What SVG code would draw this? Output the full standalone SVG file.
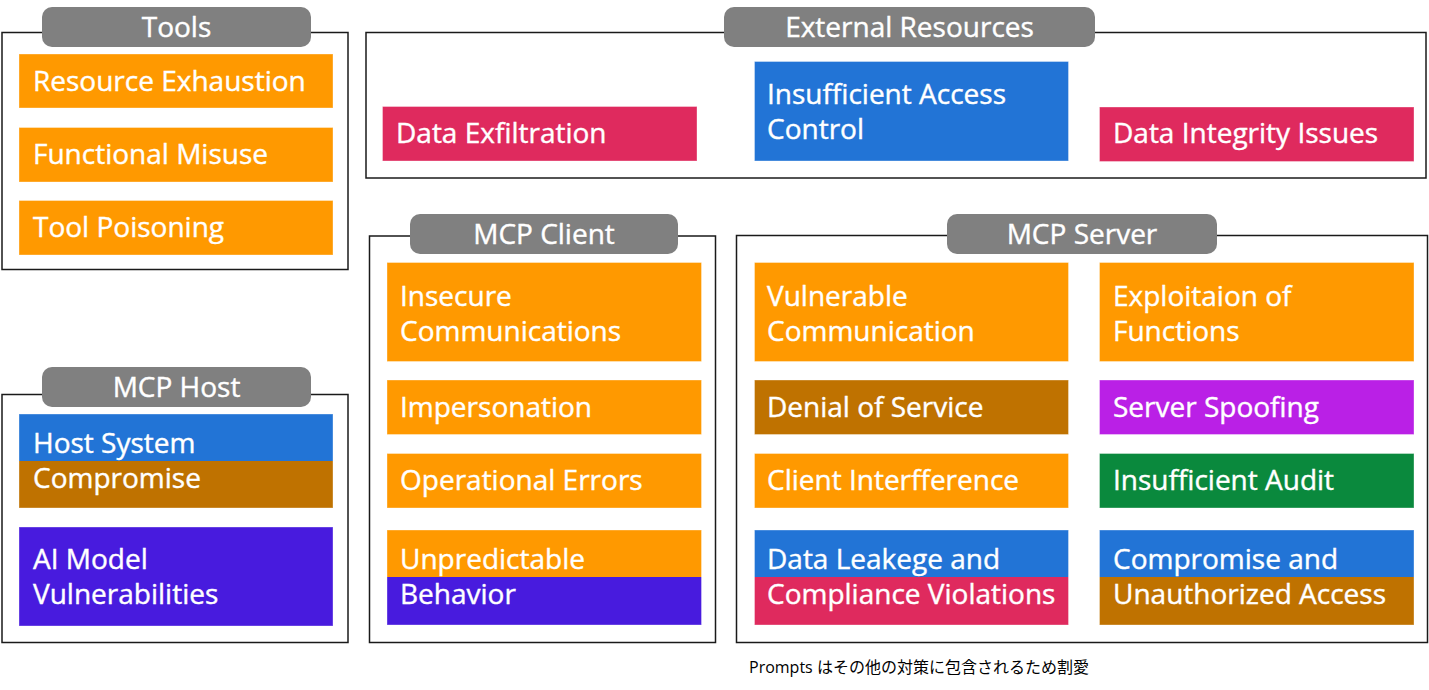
<svg xmlns="http://www.w3.org/2000/svg" width="1429" height="690" viewBox="0 0 1429 690">
  <style>
    .frame { fill: #ffffff; stroke: #1a1a1a; stroke-width: 1.5; }
    .pill { fill: #808080; }
    .title { font-family: "Open Sans", "Liberation Sans", sans-serif; font-size: 28px; fill: #ffffff; stroke: #ffffff; stroke-width: 0.4; text-anchor: middle; }
    .lbl { font-family: "Open Sans", "Liberation Sans", sans-serif; font-size: 28px; fill: #ffffff; stroke: #ffffff; stroke-width: 0.4; }
    .box { stroke: rgba(255,255,255,0.35); stroke-width: 1; }
    .orange { fill: #FF9900; }
    .crimson { fill: #DF2A5E; }
    .blue { fill: #2274D6; }
    .brown { fill: #BF7200; }
    .indigo { fill: #481BDE; }
    .magenta { fill: #BA20E6; }
    .green { fill: #0A893D; }
    .note { font-family: "Open Sans", "Noto Sans CJK JP", sans-serif; font-size: 16px; fill: #000000; }
  </style>

  <!-- Tools -->
  <g id="tools">
    <rect class="frame" x="2" y="32.5" width="346" height="237"/>
    <rect class="pill" x="42" y="7" width="269" height="40" rx="10"/>
    <text class="title" x="176.5" y="37">Tools</text>
    <g id="resource-exhaustion">
      <rect class="box orange" x="19" y="54" width="314" height="54"/>
      <text class="lbl" x="33" y="91">Resource Exhaustion</text>
    </g>
    <g id="functional-misuse">
      <rect class="box orange" x="19" y="127.5" width="314" height="54.5"/>
      <text class="lbl" x="33" y="164">Functional Misuse</text>
    </g>
    <g id="tool-poisoning">
      <rect class="box orange" x="19" y="200.5" width="314" height="54.5"/>
      <text class="lbl" x="33" y="237">Tool Poisoning</text>
    </g>
  </g>

  <!-- External Resources -->
  <g id="external-resources">
    <rect class="frame" x="366" y="32.5" width="1060" height="145.5"/>
    <rect class="pill" x="724" y="7" width="371" height="40" rx="10"/>
    <text class="title" x="909.5" y="37">External Resources</text>
    <g id="data-exfiltration">
      <rect class="box crimson" x="382.5" y="106.5" width="314.5" height="54.5"/>
      <text class="lbl" x="396" y="143">Data Exfiltration</text>
    </g>
    <g id="insufficient-access-control">
      <rect class="box blue" x="754.5" y="61.5" width="314" height="99.5"/>
      <text class="lbl" x="767" y="103.5">Insufficient Access<tspan x="767" dy="35">Control</tspan></text>
    </g>
    <g id="data-integrity-issues">
      <rect class="box crimson" x="1099.5" y="107" width="314.5" height="54.5"/>
      <text class="lbl" x="1113" y="143">Data Integrity Issues</text>
    </g>
  </g>

  <!-- MCP Host -->
  <g id="mcp-host">
    <rect class="frame" x="2" y="394.5" width="346" height="248"/>
    <rect class="pill" x="42" y="367" width="269" height="40" rx="10"/>
    <text class="title" x="176.5" y="397">MCP Host</text>
    <g id="host-system-compromise">
      <rect class="blue" x="19" y="414" width="314" height="47"/>
      <rect class="brown" x="19" y="461" width="314" height="47"/>
      <rect class="box" fill="none" x="19" y="414" width="314" height="94"/>
      <text class="lbl" x="33" y="453">Host System<tspan x="33" dy="35">Compromise</tspan></text>
    </g>
    <g id="ai-model-vulnerabilities">
      <rect class="box indigo" x="19" y="527" width="314" height="99"/>
      <text class="lbl" x="33" y="569">AI Model<tspan x="33" dy="35">Vulnerabilities</tspan></text>
    </g>
  </g>

  <!-- MCP Client -->
  <g id="mcp-client">
    <rect class="frame" x="369.5" y="236" width="346" height="406.5"/>
    <rect class="pill" x="410" y="214" width="268" height="40" rx="10"/>
    <text class="title" x="544" y="244">MCP Client</text>
    <g id="insecure-communications">
      <rect class="box orange" x="387" y="262.5" width="314.5" height="99"/>
      <text class="lbl" x="400" y="305.5">Insecure<tspan x="400" dy="35">Communications</tspan></text>
    </g>
    <g id="impersonation">
      <rect class="box orange" x="387" y="380" width="314.5" height="54.5"/>
      <text class="lbl" x="400" y="416.5">Impersonation</text>
    </g>
    <g id="operational-errors">
      <rect class="box orange" x="387" y="453.5" width="314.5" height="54.5"/>
      <text class="lbl" x="400" y="490">Operational Errors</text>
    </g>
    <g id="unpredictable-behavior">
      <rect class="orange" x="387" y="530" width="314.5" height="47"/>
      <rect class="indigo" x="387" y="577" width="314.5" height="48"/>
      <rect class="box" fill="none" x="387" y="530" width="314.5" height="95"/>
      <text class="lbl" x="400" y="569">Unpredictable<tspan x="400" dy="35">Behavior</tspan></text>
    </g>
  </g>

  <!-- MCP Server -->
  <g id="mcp-server">
    <rect class="frame" x="736.5" y="235.5" width="691" height="407"/>
    <rect class="pill" x="947" y="214" width="270" height="40" rx="10"/>
    <text class="title" x="1082" y="244">MCP Server</text>
    <g id="vulnerable-communication">
      <rect class="box orange" x="754.5" y="262.5" width="314" height="99"/>
      <text class="lbl" x="767" y="305.5">Vulnerable<tspan x="767" dy="35">Communication</tspan></text>
    </g>
    <g id="exploitation-of-functions">
      <rect class="box orange" x="1099.5" y="262.5" width="314.5" height="99"/>
      <text class="lbl" x="1113" y="305.5">Exploitaion of<tspan x="1113" dy="35">Functions</tspan></text>
    </g>
    <g id="denial-of-service">
      <rect class="box brown" x="754.5" y="380" width="314" height="54.5"/>
      <text class="lbl" x="767" y="416.5">Denial of Service</text>
    </g>
    <g id="server-spoofing">
      <rect class="box magenta" x="1099.5" y="380" width="314.5" height="54.5"/>
      <text class="lbl" x="1113" y="416.5">Server Spoofing</text>
    </g>
    <g id="client-interference">
      <rect class="box orange" x="754.5" y="453.5" width="314" height="54.5"/>
      <text class="lbl" x="767" y="490">Client Interfference</text>
    </g>
    <g id="insufficient-audit">
      <rect class="box green" x="1099.5" y="453.5" width="314.5" height="54.5"/>
      <text class="lbl" x="1113" y="490">Insufficient Audit</text>
    </g>
    <g id="data-leakage-compliance">
      <rect class="blue" x="754.5" y="530" width="314" height="47"/>
      <rect class="crimson" x="754.5" y="577" width="314" height="48"/>
      <rect class="box" fill="none" x="754.5" y="530" width="314" height="95"/>
      <text class="lbl" x="767" y="569">Data Leakege and<tspan x="767" dy="35">Compliance Violations</tspan></text>
    </g>
    <g id="compromise-unauthorized-access">
      <rect class="blue" x="1099.5" y="530" width="314.5" height="47"/>
      <rect class="brown" x="1099.5" y="577" width="314.5" height="48"/>
      <rect class="box" fill="none" x="1099.5" y="530" width="314.5" height="95"/>
      <text class="lbl" x="1113" y="569">Compromise and<tspan x="1113" dy="35">Unauthorized Access</tspan></text>
    </g>
  </g>

  <!-- no connectors between the groups -->
  <g id="connectors"/>

  <text class="note" x="749" y="673">Prompts はその他の対策に包含されるため割愛</text>
</svg>
